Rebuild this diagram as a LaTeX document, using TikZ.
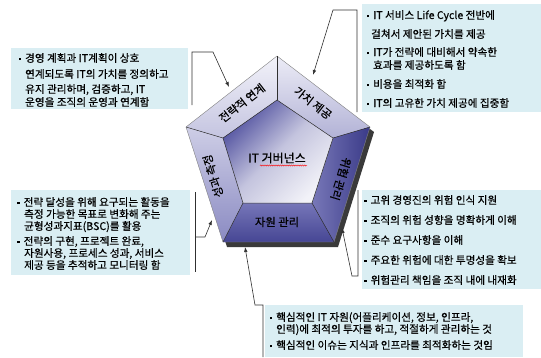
\documentclass[tikz,border=0pt]{standalone}
\usepackage{fontspec}
\setmainfont{Noto Sans CJK KR}[FakeBold=0.45]
\usetikzlibrary{arrows.meta,decorations.pathmorphing}
\definecolor{boxfill}{HTML}{DAEEF3}
\definecolor{coredark}{HTML}{50509F}
\definecolor{corelight}{HTML}{F2F2F8}
\definecolor{linecol}{HTML}{303030}
\definecolor{shadowcol}{HTML}{3A3A3A}
\newcommand\kbul{\makebox[6.5pt][l]{\rule[1.8pt]{2.6pt}{2.6pt}}}
\tikzset{
  ln/.style={anchor=base west, inner sep=0pt, font=\fontsize{10.6}{12}\selectfont},
  infobox/.style={fill=boxfill, draw=none, anchor=north west, inner sep=0pt},
  seglabel/.style={inner sep=0pt, font=\fontsize{11.3}{13}\selectfont},
  brk/.style={draw=linecol, line width=0.6pt},
  arr/.style={brk, -{Latex[length=5pt,width=3.6pt]}},
  divider/.style={draw=linecol, line width=0.5pt}
}
\begin{document}
\begin{tikzpicture}[x=1pt,y=-1pt]
\useasboundingbox (0,0) rectangle (541,357);

% info boxes
\node[infobox, minimum width=177pt, minimum height=61pt] (tlbox) at (11,48) {};
\node[infobox, minimum width=179pt, minimum height=108pt] (trbox) at (362,4) {};
\node[infobox, minimum width=179pt, minimum height=85pt] (lmbox) at (11,190) {};
\node[infobox, minimum width=179pt, minimum height=99pt] (rmbox) at (362,190) {};
\node[infobox, minimum width=258pt, minimum height=52pt] (bbox) at (265,305) {};

% pentagon coordinates
\coordinate (O1) at (277,56);
\coordinate (O2) at (370,127);
\coordinate (O3) at (334,242);
\coordinate (O4) at (223,242);
\coordinate (O5) at (186,127);
\coordinate (I1) at (277,100);
\coordinate (I2) at (333,138);
\coordinate (I3) at (312,203);
\coordinate (I4) at (243,203);
\coordinate (I5) at (223,138);

% shadow
\fill[shadowcol] ([shift={(4,5)}]O1) -- ([shift={(4,5)}]O2) -- ([shift={(4,5)}]O3)
  -- ([shift={(4,5)}]O4) -- ([shift={(4,5)}]O5) -- cycle;
% ring segments
\shade[top color={rgb,255:red,242;green,242;blue,249}, bottom color={rgb,255:red,196;green,196;blue,224}]
  (O5) -- (O1) -- (I1) -- (I5) -- cycle;
\shade[top color={rgb,255:red,236;green,236;blue,246}, bottom color={rgb,255:red,178;green,178;blue,214}]
  (O1) -- (O2) -- (I2) -- (I1) -- cycle;
\shade[left color={rgb,255:red,120;green,120;blue,184}, right color={rgb,255:red,58;green,58;blue,136}]
  (O2) -- (O3) -- (I3) -- (I2) -- cycle;
\shade[top color={rgb,255:red,118;green,118;blue,184}, bottom color={rgb,255:red,70;green,70;blue,148}]
  (O3) -- (O4) -- (I4) -- (I3) -- cycle;
\shade[top color={rgb,255:red,206;green,206;blue,230}, bottom color={rgb,255:red,138;green,138;blue,194}]
  (O4) -- (O5) -- (I5) -- (I4) -- cycle;
% core
\shade[top color=coredark, bottom color=corelight, middle color={rgb,255:red,196;green,196;blue,222}, shading angle=45]
  (I1) -- (I2) -- (I3) -- (I4) -- (I5) -- cycle;
% lines
\draw[draw=gray, line width=0.4pt] (O1) -- (O2) -- (O3) -- (O4) -- (O5) -- cycle;
\draw[divider] (I1) -- (I2) -- (I3) -- (I4) -- (I5) -- cycle;
\foreach \k in {1,...,5} { \draw[divider] (O\k) -- (I\k); }

% segment labels
\node[seglabel, rotate=38] (seg1) at (242,103) {전략적 연계};
\node[seglabel, rotate=-38] (seg2) at (313,103) {가치 제공};
\node[seglabel, rotate=-107] (seg3) at (341,179) {위험 관리};
\node[seglabel] (seg4) at (277,222) {자원 관리};
\node[seglabel, rotate=107] (seg5) at (213,176) {성과 측정};
\node[inner sep=0pt, font=\fontsize{12}{14}\selectfont] (core) at (277,158) {IT 거버넌스};
\draw[red, line width=0.4pt, decorate, decoration={snake, amplitude=0.6pt, segment length=2.2pt}]
  (260,165.5) -- (307,165.5);

% texts: top left
\node[ln] (tlt1) at (18.5,62) {\kbul 경영 계획과 IT계획이 상호};
\node[ln] (tlt2) at (25,78) {연계되도록 IT의 가치를 정의하고};
\node[ln] (tlt3) at (25,93) {유지 관리하며, 검증하고, IT};
\node[ln] (tlt4) at (25,106) {운영을 조직의 운영과 연계함};

% top right
\node[ln] (trt1) at (366.5,19) {\kbul IT 서비스 Life Cycle 전반에};
\node[ln] (trt2) at (371,38) {걸쳐서 제안된 가치를 제공};
\node[ln] (trt3) at (366.5,56) {\kbul IT가 전략에 대비해서 약속한};
\node[ln] (trt4) at (373,69) {효과를 제공하도록 함};
\node[ln] (trt5) at (366.5,88) {\kbul 비용을 최적화 함};
\node[ln] (trt6) at (366.5,107) {\kbul IT의 고유한 가치 제공에 집중함};

% left middle
\node[ln] (lmt1) at (17,206) {\kbul 전략 달성을 위해 요구되는 활동을};
\node[ln] (lmt2) at (24,218) {측정 가능한 목표로 변화해 주는};
\node[ln] (lmt3) at (24,230) {균형성과지표(BSC)를 활용};
\node[ln] (lmt4) at (17,245) {\kbul 전략의 구현, 프로젝트 완료,};
\node[ln] (lmt5) at (24,257) {자원사용, 프로세스 성과, 서비스};
\node[ln] (lmt6) at (24,269) {제공 등을 추적하고 모니터링 함};

% right middle
\node[ln] (rmt1) at (364,204) {\kbul 고위 경영진의 위험 인식 지원};
\node[ln] (rmt2) at (364,224) {\kbul 조직의 위험 성향을 명확하게 이해};
\node[ln] (rmt3) at (364,244) {\kbul 준수 요구사항을 이해};
\node[ln] (rmt4) at (364,264) {\kbul 주요한 위험에 대한 투명성을 확보};
\node[ln] (rmt5) at (364,284) {\kbul 위험관리 책임을 조직 내에 내재화};

% bottom
\node[ln] (bt1) at (269.5,321) {\kbul 핵심적인 IT 자원(어플리케이션, 정보, 인프라,};
\node[ln] (bt2) at (276,333) {인력)에 최적의 투자를 하고, 적절하게 관리하는 것};
\node[ln] (bt3) at (269.5,349) {\kbul 핵심적인 이슈는 지식과 인프라를 최적화하는 것임};

% connectors
\coordinate (tlA) at (192,105);
\coordinate (tlB) at (192,52);
\coordinate (tlC) at (213,52);
\coordinate (tlE) at (229,87);
\draw[arr] (tlA) -- (tlB) -- (tlC) -- (tlE);

\coordinate (trA) at (357,112);
\coordinate (trB) at (357,10);
\coordinate (trC) at (333,10);
\coordinate (trE) at (313,75);
\draw[arr] (trA) -- (trB) -- (trC) -- (trE);

\coordinate (lmA) at (195,192);
\coordinate (lmB) at (195,272);
\coordinate (lmC) at (195,237);
\coordinate (lmD) at (205,237);
\coordinate (lmE) at (212,220);
\draw[brk] (lmA) -- (lmB);
\draw[arr] (lmC) -- (lmD) -- (lmE);

\coordinate (rmA) at (358,190);
\coordinate (rmB) at (358,276);
\coordinate (rmC) at (352,276);
\coordinate (rmE) at (342,228);
\draw[arr] (rmA) -- (rmB) -- (rmC) -- (rmE);

\coordinate (bA) at (263,357);
\coordinate (bB) at (263,305);
\coordinate (bC) at (255,305);
\coordinate (bE) at (245,247);
\draw[arr] (bA) -- (bB) -- (bC) -- (bE);
\end{tikzpicture}
\end{document}
